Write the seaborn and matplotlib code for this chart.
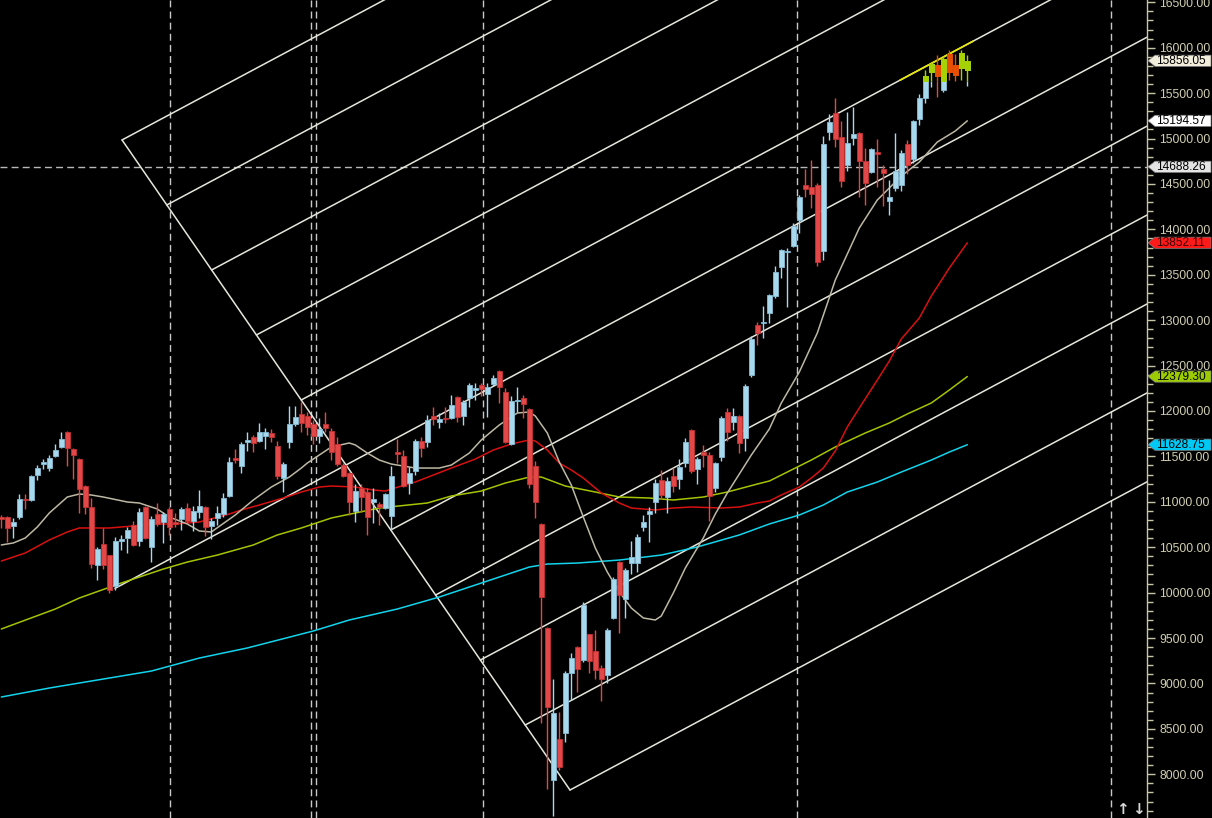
import numpy as np
import pandas as pd
import matplotlib
matplotlib.use("Agg")
import matplotlib.pyplot as plt
import seaborn as sns
from matplotlib.patches import Polygon, Rectangle
from matplotlib.transforms import blended_transform_factory
from matplotlib.ticker import MultipleLocator, FormatStrFormatter

# ---------------- data (weekly candles) ----------------
opens = [10833,10833,10734,10833,11031,11020,11295,11416,11372,11504,
         11604,11769,11582,11471,11174,10943,10304,10536,10414,10073,
         10569,10602,10745,10569,10943,10503,10866,10778,10921,10778,
         10811,10932,10789,10888,10943,10734,10822,10866,11064,11482,
         11394,11659,11714,11670,11725,11758,11615,11262,11659,11857,
         11967,11945,11857,11725,11857,11780,11637,11405,11317,10899,
         11152,11108,10998,10976,10932,10844,11548,11504,11207,11339,
         11670,11659,11945,11879,11923,11923,12154,11945,12143,12231,
         12286,12187,12297,12440,12209,11637,12110,12143,12022,11394,
         10756,9611,7937,8389,8455,9115,9402,9258,9545,9357,
         9170,9093,9721,10337,9930,10326,10326,10723,10866,10998,
         11240,11053,11284,11251,11427,11791,11361,11548,11515,11152,
         11493,11989,11879,11945,11703,12396,12947,12969,13079,13266,
         13585,13750,13817,14103,14488,14466,14488,13761,15072,15281,
         15017,14708,15006,15061,14752,14631,14851,14664,14312,14455,
         14488,14940,14774,15215,15446,15732,15809,15534,15930,15809,
         15776,15754]
highs = [10855,10844,10822,11086,11086,11295,11405,11471,11515,11637,
         11769,11780,11590,11480,11185,11042,10503,10712,10420,10613,
         10635,10723,10789,10932,10954,10844,10987,10888,10943,10877,
         10943,10987,10954,11130,10950,10822,10954,11097,11493,11582,
         11659,11769,11736,11868,11813,11802,11670,11438,12055,12055,
         12099,11989,11901,11923,11989,11813,11714,11427,11328,11196,
         11196,11152,11152,10998,11097,11394,11692,11570,11383,11692,
         11714,11956,12044,11978,12044,12176,12165,12121,12308,12308,
         12308,12308,12396,12451,12253,12165,12264,12176,12030,11449,
         10767,9622,9049,8686,9137,9335,9410,9897,9550,9589,
         9203,9611,10172,10345,10271,10569,10646,10855,10943,11251,
         11350,11273,11372,11471,11703,11802,11493,11626,11548,11438,
         11945,12033,12033,11956,12297,12826,12980,13156,13288,13596,
         13784,13795,14070,14378,14664,14763,14510,15028,15270,15446,
         15193,15292,15347,15072,14896,14896,14995,14708,14543,15061,
         14873,14984,15204,15490,15754,15842,15919,15908,15974,15930,
         15974,15919]
lows = [10712,10558,10602,10811,10921,11009,11240,11361,11339,11490,
        11593,11394,11251,10877,10866,10271,10139,10260,9996,10029,
        10469,10436,10514,10514,10591,10337,10734,10547,10635,10723,
        10690,10767,10679,10822,10624,10591,10745,10833,11053,11427,
        11317,11559,11548,11659,11582,11659,11251,11108,11593,11835,
        11769,11736,11637,11648,11769,11460,11394,11273,10855,10778,
        10888,10635,10767,10745,10921,10690,11427,11163,11086,11295,
        11493,11604,11846,11813,11868,11912,11879,11846,12044,12121,
        12165,11934,12275,12088,11648,11626,11989,11923,11150,10822,
        8565,7838,7541,8047,8356,8818,8906,9236,9115,9049,
        8807,9005,9710,9556,9721,10205,10227,10679,10558,10877,
        11031,10877,11108,11141,11383,11317,11196,11383,10789,11108,
        11449,11670,11791,11537,11559,12374,12727,12804,12969,13244,
        13464,13145,13806,13960,14356,14235,13596,13662,14984,14907,
        14466,14642,14929,14356,14268,14620,14466,14257,14158,14422,
        14422,14609,14730,15149,15391,15567,15457,15512,15644,15633,
        15644,15578]
closes = [10811,10712,10778,11031,11020,11284,11372,11438,11482,11570,
          11692,11593,11515,11141,10943,10315,10481,10304,10029,10569,
          10591,10690,10525,10888,10602,10811,10756,10866,10723,10756,
          10921,10789,10899,10954,10723,10789,10877,11042,11438,11460,
          11637,11681,11648,11769,11769,11714,11284,11416,11857,11934,
          11868,11824,11725,11802,11813,11548,11416,11284,10998,11119,
          11053,10833,11031,10943,11086,11284,11526,11174,11317,11670,
          11593,11901,11912,11912,11912,12066,11934,12099,12286,12253,
          12242,12264,12363,12264,11659,12110,12121,12077,11196,10998,
          9952,8741,8675,8080,9115,9280,9159,9864,9247,9148,
          9049,9589,10150,9974,10249,10392,10613,10778,10899,11207,
          11075,11229,11174,11383,11659,11339,11471,11515,11064,11427,
          11923,11769,11945,11648,12275,12793,12859,12980,13277,13530,
          13772,13761,14037,14356,14444,14389,13640,14940,15182,14995,
          14532,14951,15050,14752,14510,14885,14829,14620,14356,14642,
          14840,14708,15193,15446,15688,15820,15688,15875,15732,15699,
          15941,15856.05]

# moving averages (values read at selected bars)
ma_gray_bars = [0,2,4,6,8,11,13,15,17,21,23,26,28,31,33,35,39,42,45,48,50,51,55,58,59,
                61,63,65,69,73,75,78,80,83,86,88,89,91,93,95,97,99,101,103,105,107,109,
                110,112,114,117,119,121,123,125,128,130,133,136,139,143,146,150,153,156,159,161]
ma_gray_vals = [10525,10547,10602,10723,10877,11053,11086,11075,11053,10998,10987,10921,
                10833,10756,10679,10668,10855,11020,11163,11273,11372,11427,11604,11648,
                11626,11537,11460,11416,11372,11372,11405,11537,11681,11846,11978,11989,
                11945,11758,11438,11185,10833,10492,10227,10007,9831,9721,9699,9743,9996,
                10271,10602,10866,11097,11306,11515,11802,12088,12429,12859,13442,14015,
                14323,14587,14741,14961,15083,15194.57]
ma_red_bars = [0,4,8,11,13,15,18,22,25,29,33,38,40,43,47,50,53,55,59,62,64,65,69,72,75,
               79,82,85,88,89,91,93,95,97,100,103,105,109,112,115,120,123,126,128,130,
               133,135,137,139,141,143,146,148,150,153,155,158,161]
ma_red_vals = [10348,10437,10580,10668,10712,10712,10712,10734,10756,10756,10778,10866,
               10910,10965,11042,11108,11163,11174,11163,11130,11119,11141,11218,11295,
               11372,11471,11570,11637,11681,11670,11570,11427,11350,11262,11097,10987,
               10932,10910,10932,10943,10932,10943,10987,11009,11075,11163,11262,11372,
               11560,11824,12033,12341,12550,12793,13024,13266,13574,13852.11]
ma_lime_bars = [0,9,13,20,27,31,36,42,46,50,55,63,71,75,80,84,88,90,94,99,103,108,112,
                117,121,126,128,131,135,139,144,148,151,155,158,161]
ma_lime_vals = [9600,9820,9941,10106,10260,10337,10414,10525,10635,10712,10822,10932,
                10987,11064,11119,11207,11273,11273,11174,11108,11053,11042,11020,11053,
                11108,11196,11229,11328,11460,11604,11758,11868,11967,12088,12231,12379.30]
ma_cyan_bars = [0,8,17,25,33,41,52,58,66,73,80,88,91,96,103,110,116,123,128,133,137,
                141,146,150,155,158,161]
ma_cyan_vals = [8851,8950,9049,9137,9280,9391,9578,9699,9820,9952,10106,10282,10315,
                10326,10359,10414,10503,10635,10756,10855,10965,11108,11218,11328,11460,
                11548,11628.75]

# drawing tools (bar index, price)
fork_start = (20.12, 14984)
fork_end = (94.78, 7827)
channel_slope = 35.28          # price per bar
channel_steps = 10
mid_line_start_bar = 18.95
yellow_seg = (4, 149.8, 162.0)  # channel index, from bar, to bar
session_lines = [28.17, 51.57, 52.5, 80.33, 132.67, 184.95]
crosshair_price = 14688.26
highlight_level = 15635

price_tags = [(15856.05, '#f2eedc', 'black'), (15194.57, '#ffffff', 'black'),
              (14688.26, '#e4e4e4', 'black'), (13852.11, '#ff1a1a', '#3a0000'),
              (12379.30, '#9ccc00', 'black'), (11628.75, '#00c8f4', 'black')]

# ---------------- figure ----------------
sns.set_theme(style="dark", rc={"axes.facecolor": "black", "figure.facecolor": "black",
                                "axes.grid": False})
plt.rcParams['font.family'] = ['Liberation Sans', 'DejaVu Sans']

W, H = 1212, 818
fig = plt.figure(figsize=(W / 100, H / 100), dpi=100)
ax = fig.add_axes([0, 0, 1147 / W, 1])
ax.set_facecolor('black')
ax.set_xlim(-0.22, 190.95)
ax.set_ylim(7519, 16525)

# session separators and crosshair
for b in session_lines:
    ax.axvline(b, color='#c8c8c8', lw=1.0, ls=(0, (5, 3)), zorder=1)
ax.axhline(crosshair_price, color='#b8b8b8', lw=1.0, ls=(0, (5, 3)), zorder=1)

# channel / fork lines
line_col = '#e6e6dc'
ax.plot([fork_start[0], fork_end[0]], [fork_start[1], fork_end[1]], color=line_col, lw=1.1, zorder=2)
for k in range(channel_steps + 1):
    bx = fork_start[0] + k / channel_steps * (fork_end[0] - fork_start[0])
    py = fork_start[1] + k / channel_steps * (fork_end[1] - fork_start[1])
    if k == channel_steps // 2:
        py = py - (bx - mid_line_start_bar) * channel_slope
        bx = mid_line_start_bar
    x_end = 230
    ax.plot([bx, x_end], [py, py + (x_end - bx) * channel_slope], color=line_col, lw=1.1, zorder=2)
    if k == yellow_seg[0]:
        ya = py + (yellow_seg[1] - bx) * channel_slope
        yb = py + (yellow_seg[2] - bx) * channel_slope
        ax.plot([yellow_seg[1], yellow_seg[2]], [ya, yb], color='#e8e800', lw=1.2, zorder=3)

# moving averages with seaborn
ma_specs = [(ma_cyan_bars, ma_cyan_vals, '#12d4ec'),
            (ma_lime_bars, ma_lime_vals, '#a4c400'),
            (ma_red_bars, ma_red_vals, '#d81010'),
            (ma_gray_bars, ma_gray_vals, '#bdb8a4')]
for bars, vals, col in ma_specs:
    df = pd.DataFrame({'bar': bars, 'value': vals})
    sns.lineplot(data=df, x='bar', y='value', ax=ax, color=col, lw=1.1,
                 estimator=None, sort=False, legend=False, zorder=4)

# candles
up_fill, up_edge = '#a8d8ec', '#84bcd6'
dn_fill, dn_edge = '#e24848', '#c43030'
hi_up, hi_dn = '#a6d200', '#e85000'
bw = 0.74
for i, (o, h, l, c) in enumerate(zip(opens, highs, lows, closes)):
    up = c >= o
    base = up_fill if up else dn_fill
    edge = up_edge if up else dn_edge
    hcol = hi_up if up else hi_dn
    if h > highlight_level:
        lo_part = min(highlight_level, h)
        if l < lo_part:
            ax.vlines(i, l, lo_part, color=base, lw=1.0, zorder=5)
        ax.vlines(i, max(l, highlight_level), h, color=hcol, lw=1.0, zorder=5)
    else:
        ax.vlines(i, l, h, color=base, lw=1.0, zorder=5)
    bot, top = min(o, c), max(o, c)
    if top - bot < 15:
        mid = (top + bot) / 2
        bot, top = mid - 8, mid + 8
    ax.add_patch(Rectangle((i - bw / 2, bot), bw, top - bot, facecolor=base,
                           edgecolor=edge, lw=0.6, zorder=6))
    if top > highlight_level:
        b2 = max(bot, highlight_level)
        ax.add_patch(Rectangle((i - bw / 2, b2), bw, top - b2, facecolor=hcol,
                               edgecolor=hcol, lw=0.6, zorder=7))

# right price axis
for s in ['top', 'left', 'bottom']:
    ax.spines[s].set_visible(False)
ax.spines['right'].set_color('#c8c6a8')
ax.spines['right'].set_linewidth(1.0)
ax.yaxis.tick_right()
ax.yaxis.set_major_locator(MultipleLocator(500))
ax.yaxis.set_minor_locator(MultipleLocator(100))
ax.yaxis.set_major_formatter(FormatStrFormatter('%.2f'))
ax.tick_params(axis='y', which='major', direction='out', length=6, width=1,
               color='#c8c6a8', labelcolor='#d2ceb0', labelsize=8.8, pad=3)
ax.tick_params(axis='y', which='minor', direction='out', length=4, width=1,
               color='#c8c6a8')
ax.set_xticks([])
ax.set_xlabel('')
ax.set_ylabel('')

# price tags
trans = blended_transform_factory(fig.transFigure, ax.transData)
hh = 5.6 * 11.01
for price, bg, fg in price_tags:
    pts = [(1148 / W, price), (1155 / W, price + hh), (1211 / W, price + hh),
           (1211 / W, price - hh), (1155 / W, price - hh)]
    ax.add_patch(Polygon(pts, closed=True, facecolor=bg, edgecolor='#808080', lw=0.5,
                         transform=trans, clip_on=False, zorder=20))
    ax.text(1156 / W, price, f'{price:.2f}', transform=trans, color=fg, fontsize=8.6,
            ha='left', va='center', clip_on=False, zorder=21)

# scroll arrows bottom right
fig.text(1122 / W, 1 - 809 / H, '\u2191', color='#d8d8d8', fontsize=11, fontweight='bold',
         ha='center', va='center', family='DejaVu Sans')
fig.text(1138 / W, 1 - 809 / H, '\u2193', color='#d8d8d8', fontsize=11, fontweight='bold',
         ha='center', va='center', family='DejaVu Sans')

fig.savefig('out.png', dpi=100, facecolor='black')
